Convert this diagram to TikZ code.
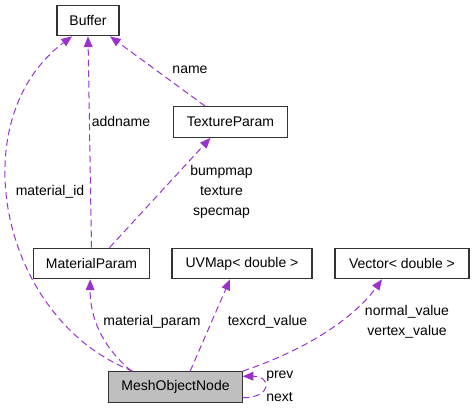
\documentclass[tikz,border=0pt]{standalone}
\usepackage{fontspec}
\setmainfont{Liberation Sans}
\usepackage{xcolor}
\usepackage{tikz}
\usetikzlibrary{arrows.meta}
\definecolor{edgepurple}{HTML}{9A32CD}
\definecolor{nodegray}{HTML}{BFBFBF}
\tikzset{cls/.style={draw=black!80, line width=0.8pt, minimum height=23pt, inner sep=2pt},
  rel/.style={draw=edgepurple, line width=0.75pt, dash pattern=on 5pt off 3pt, -{Triangle[length=8pt, width=6.5pt]}},
  lbl/.style={align=center, inner sep=0pt}}

\begin{document}
\begin{tikzpicture}[x=0.75pt, y=-0.75pt, font=\fontsize{10.5}{15}\selectfont]
  \useasboundingbox (0,0) rectangle (475,413);
  % Nodes
  \node[cls, minimum width=46.5pt] (buffer) at (88,20.5) {Buffer};
  \node[cls, minimum width=86pt] (texparam) at (230.5,122) {TextureParam};
  \node[cls, minimum width=87.5pt] (matparam) at (91.5,263.5) {MaterialParam};
  \node[cls, minimum width=105pt] (uvmap) at (242,263.5) {UVMap< double >};
  \node[cls, minimum width=100.5pt] (vector) at (402,263.5) {Vector< double >};
  \node[cls, minimum width=100pt, fill=nodegray] (mesh) at (175.5,387) {MeshObjectNode};

  % Relations
  \draw[rel] ([xshift=-32pt]mesh.north) .. controls (0,320) and (-40,120) .. ([xshift=-12pt]buffer.south);
  \draw[rel] (matparam.north) -- (buffer.south);
  \draw[rel] ([xshift=-19pt]texparam.north) -- ([xshift=16.5pt]buffer.south);
  \draw[rel] ([xshift=13.5pt]matparam.north) -- ([xshift=-15pt]texparam.south);
  \draw[rel] ([xshift=-33pt]mesh.north) .. controls (100,345) and (90,315) .. ([xshift=-1pt]matparam.south);
  \draw[rel] ([xshift=11pt]mesh.north) -- ([xshift=-9pt]uvmap.south);
  \draw[rel] (mesh.north east) .. controls (320,345) and (360,310) .. ([xshift=-15pt]vector.south);
  \draw[rel] ([yshift=-8pt]mesh.east) .. controls (272,398) and (272,376) .. ([yshift=8pt]mesh.east);

  % Labels
  \node[lbl] (lid) at (50,192) {material\_id};
  \node[lbl] (ladd) at (121,121) {addname};
  \node[lbl] (lname) at (190,70) {name};
  \node[lbl] (lmaps) at (221.5,192) {bumpmap\\texture\\specmap};
  \node[lbl] (lmat) at (152,322) {material\_param};
  \node[lbl] (ltex) at (267.5,322) {texcrd\_value};
  \node[lbl] (lvec) at (407,322) {normal\_value\\vertex\_value};
  \node[lbl, anchor=west] (lprev) at (266,376) {prev};
  \node[lbl, anchor=west] (lnext) at (266,397) {next};
\end{tikzpicture}
\end{document}
